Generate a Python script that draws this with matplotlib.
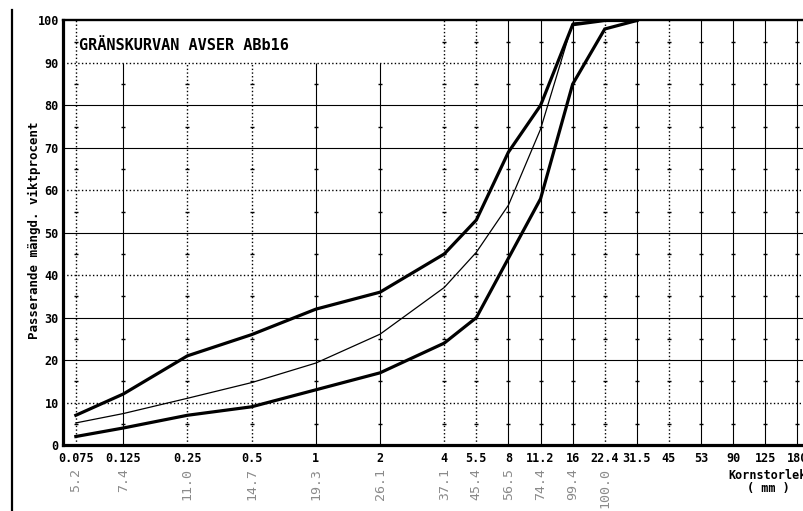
import numpy as np
import matplotlib
matplotlib.use('Agg')
import matplotlib.pyplot as plt
from matplotlib.lines import Line2D
from matplotlib import transforms

# sieve sizes (mm) and the labels printed under the axis
sieves = [0.075, 0.125, 0.25, 0.5, 1, 2, 4, 5.5, 8, 11.2, 16, 22.4, 31.5, 45, 53, 90, 125, 180]
sieve_labels = ['0.075', '0.125', '0.25', '0.5', '1', '2', '4', '5.5', '8', '11.2',
				'16', '22.4', '31.5', '45', '53', '90', '125', '180']

# passing percentage, by weight
upper = [7, 12, 21, 26, 32, 36, 45, 53, 69, 80, 99, 100, 100]
lower = [2, 4, 7, 9, 13, 17, 24, 30, 44, 58, 85, 98, 100]
sample = [5.2, 7.4, 11.0, 14.7, 19.3, 26.1, 37.1, 45.4, 56.5, 74.4, 99.4, 100.0]
sample_labels = ['5.2', '7.4', '11.0', '14.7', '19.3', '26.1', '37.1', '45.4', '56.5', '74.4', '99.4', '100.0']

title = 'GRÄNSKURVAN AVSER ABb16'
ylabel = 'Passerande mängd. viktprocent'
xlabel = 'Kornstorlek\n( mm )'

MONO = 'DejaVu Sans Mono'

# x scale: log up to 4 mm, then even steps
xpos = []
for s in sieves:
	if s <= 4:
		xpos.append(np.log2(s / 0.075))
	else:
		xpos.append(xpos[-1] + 0.5)

fig = plt.figure(figsize=(8.04, 5.11), dpi=100)
ax = fig.add_axes([63 / 804, 66 / 511, 754.5 / 804, 424.5 / 511])
ax.set_xlim(-0.2, 11.55)
ax.set_ylim(0, 100)

# horizontal grid
hstyles = {10: ':', 20: '-', 30: '-', 40: ':', 50: '-', 60: ':', 70: '-', 80: '-', 90: ':'}
for y, ls in hstyles.items():
	ax.axhline(y, color='black', lw=0.8 if ls == '-' else 1.0, ls=ls, zorder=1)

# vertical grid, the title box keeps lines 0.125-2 below 90
dotted = {'0.075', '0.25', '0.5', '4', '5.5', '22.4', '45'}
for i, (xp, lab) in enumerate(zip(xpos, sieve_labels)):
	top = 90 if 1 <= i <= 5 else 100
	ls = ':' if lab in dotted else '-'
	ax.vlines(xp, 0, top, color='black', lw=0.8 if ls == '-' else 1.0, ls=ls, zorder=1)
	marks = [m for m in range(5, 100, 10) if m < top]
	ax.plot([xp] * len(marks), marks, ls='none', marker='_', ms=3.5, mew=1.0, color='black', zorder=1)

# curves
ax.plot(xpos[:len(upper)], upper, color='black', lw=2.3, solid_joinstyle='miter', zorder=3)
ax.plot(xpos[:len(lower)], lower, color='black', lw=2.3, solid_joinstyle='miter', zorder=3)
ax.plot(xpos[:len(sample)], sample, color='black', lw=0.9, zorder=3)

ax.text(0.05, 94.2, title, fontfamily=MONO, fontweight='bold', fontsize=11,
		ha='left', va='center', zorder=4)

# axes frame
for side in ['left', 'bottom']:
	ax.spines[side].set_linewidth(2.3)
ax.spines['top'].set_linewidth(1.7)
ax.spines['right'].set_linewidth(1.7)

ax.set_xticks(xpos, sieve_labels)
ax.set_yticks(range(0, 101, 10))
ax.tick_params(length=0)
ax.tick_params(axis='x', pad=5)
ax.tick_params(axis='y', pad=3)
for t in ax.get_xticklabels() + ax.get_yticklabels():
	t.set_fontfamily(MONO)
	t.set_fontweight('bold')
	t.set_fontsize(8.5)

fig.text(34 / 804, 1 - 230 / 511, ylabel, rotation=90, fontfamily=MONO, fontweight='bold',
		 fontsize=9, ha='center', va='center')

trans = transforms.blended_transform_factory(ax.transData, ax.transAxes)
for xp, lab in zip(xpos, sample_labels):
	ax.text(xp, -0.054, lab, transform=trans, rotation=90, fontfamily=MONO, fontsize=9.5,
			color='#8a8a8a', ha='center', va='top')

ax.text(10.78, -0.056, xlabel, transform=trans, fontfamily=MONO, fontweight='bold',
		fontsize=8.5, ha='center', va='top', linespacing=1.0)

# page edge on the left
fig.add_artist(Line2D([12 / 804, 12 / 804], [1 - 10 / 511, 0], color='black', lw=1.6))

fig.savefig('out.png', dpi=100)
